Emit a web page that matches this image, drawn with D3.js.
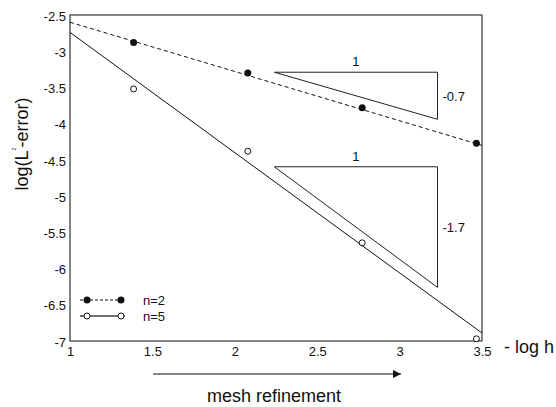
<!DOCTYPE html>
<html>
<head>
<meta charset="utf-8">
<script src="https://cdn.jsdelivr.net/npm/d3@7"></script>
<style>
  html, body { margin: 0; padding: 0; background: #fff; }
  svg { display: block; font-family: "Liberation Sans", Arial, sans-serif; }
</style>
</head>
<body>
<svg id="chart" width="556" height="407"></svg>
<script>
// ---- data ----
const logInvH = [1.386, 2.079, 2.773, 3.466];          // -log h
const errN2   = [-2.88, -3.30, -3.78, -4.27];          // n=2, filled markers
const errN5   = [-3.52, -4.38, -5.645, -6.97];         // n=5, open markers
const fitN2   = [[1, -2.60], [3.5, -4.30]];            // dashed fit line
const fitN5   = [[1, -2.74], [3.5, -6.89]];            // solid fit line
const xTicks  = [1, 1.5, 2, 2.5, 3, 3.5];
const yTicks  = [-2.5, -3, -3.5, -4, -4.5, -5, -5.5, -6, -6.5, -7];
const triangleX    = [2.24, 3.23];
const triangleN2Y  = [-3.29, -3.94];
const triangleN5Y  = [-4.595, -6.26];
const triangleRun  = ["1", "1"];
const triangleRise = ["-0.7", "-1.7"];
const legendLabels = ["n=2", "n=5"];

// ---- layout ----
const svg = d3.select("#chart");
const L = 70, R = 482, T = 15, B = 341;
const x = d3.scaleLinear().domain([1, 3.5]).range([L, R]);
const y = d3.scaleLinear().domain([-2.5, -7]).range([T, B]);
const ink = "#111";

// frame
svg.append("rect")
  .attr("x", L).attr("y", T).attr("width", R - L).attr("height", B - T)
  .attr("fill", "none").attr("stroke", "#333").attr("stroke-width", 1.2);

// axes (labels only)
const xa = svg.append("g").attr("transform", `translate(0,${B})`)
  .call(d3.axisBottom(x).tickValues(xTicks).tickSize(0).tickPadding(6).tickFormat(d => String(d)));
const ya = svg.append("g").attr("transform", `translate(${L},0)`)
  .call(d3.axisLeft(y).tickValues(yTicks).tickSize(0).tickPadding(4).tickFormat(d => String(d)));
[xa, ya].forEach(g => {
  g.select(".domain").remove();
  g.selectAll("text").attr("font-size", 13).attr("fill", ink)
    .attr("font-family", "'Liberation Sans', Arial, sans-serif");
});
ya.selectAll("text").attr("dy", "0.4em");

// fit lines
const line = d3.line().x(d => x(d[0])).y(d => y(d[1]));
svg.append("path").datum(fitN2).attr("d", line)
  .attr("fill", "none").attr("stroke", ink).attr("stroke-width", 1).attr("stroke-dasharray", "4,3");
svg.append("path").datum(fitN5).attr("d", line)
  .attr("fill", "none").attr("stroke", ink).attr("stroke-width", 1);

// slope triangles
[[triangleN2Y, 0], [triangleN5Y, 1]].forEach(([ty, i]) => {
  const pts = [[triangleX[0], ty[0]], [triangleX[1], ty[0]], [triangleX[1], ty[1]]];
  svg.append("path").attr("d", line(pts) + "Z")
    .attr("fill", "none").attr("stroke", "#222").attr("stroke-width", 1);
  svg.append("text").attr("x", x((triangleX[0] + triangleX[1]) / 2)).attr("y", y(ty[0]) - 6)
    .attr("text-anchor", "middle").attr("font-size", 13).attr("fill", ink).text(triangleRun[i]);
  svg.append("text").attr("x", x(triangleX[1]) + 5).attr("y", (y(ty[0]) + y(ty[1])) / 2 + 5)
    .attr("font-size", 13).attr("fill", ink).text(triangleRise[i]);
});

// data markers
svg.append("g").selectAll("circle").data(logInvH).join("circle")
  .attr("cx", d => x(d)).attr("cy", (d, i) => y(errN2[i])).attr("r", 3.5)
  .attr("fill", ink);
svg.append("g").selectAll("circle").data(logInvH).join("circle")
  .attr("cx", d => x(d)).attr("cy", (d, i) => y(errN5[i])).attr("r", 3)
  .attr("fill", "#fff").attr("stroke", ink).attr("stroke-width", 1);

// legend
const lg = svg.append("g");
[300, 316].forEach((ly, i) => {
  lg.append("line").attr("x1", 80).attr("x2", 125).attr("y1", ly).attr("y2", ly)
    .attr("stroke", i === 0 ? ink : "#444").attr("stroke-width", i === 0 ? 1 : 1.5)
    .attr("stroke-dasharray", i === 0 ? "3,2" : null);
  [87, 121].forEach(cx => {
    lg.append("circle").attr("cx", cx).attr("cy", ly).attr("r", i === 0 ? 3.5 : 3)
      .attr("fill", i === 0 ? ink : "#fff").attr("stroke", ink).attr("stroke-width", i === 0 ? 0 : 1);
  });
  lg.append("text").attr("x", 143).attr("y", ly + 5).attr("font-size", 13).attr("fill", ink)
    .text(legendLabels[i]);
});

// axis titles
const yl = svg.append("text")
  .attr("transform", "translate(28,144) rotate(-90)")
  .attr("text-anchor", "middle").attr("font-size", 18).attr("fill", ink);
yl.append("tspan").text("log(L");
yl.append("tspan").attr("font-size", 5).attr("dy", -12).text("2");
yl.append("tspan").attr("dy", 12).text("-error)");

svg.append("text").attr("x", 504).attr("y", 353).attr("font-size", 18).attr("fill", ink).text("- log h");

// mesh refinement arrow
const defs = svg.append("defs");
defs.append("marker").attr("id", "arrow").attr("viewBox", "0 0 10 10")
  .attr("refX", 10).attr("refY", 5).attr("markerWidth", 9).attr("markerHeight", 8)
  .attr("markerUnits", "userSpaceOnUse").attr("orient", "auto")
  .append("path").attr("d", "M0,0 L10,5 L0,10 Z").attr("fill", ink);
svg.append("line").attr("x1", 153).attr("x2", 401).attr("y1", 374).attr("y2", 374)
  .attr("stroke", ink).attr("stroke-width", 1.2).attr("marker-end", "url(#arrow)");
svg.append("text").attr("x", 274).attr("y", 402).attr("text-anchor", "middle")
  .attr("font-size", 18).attr("fill", ink).text("mesh refinement");
</script>
</body>
</html>
